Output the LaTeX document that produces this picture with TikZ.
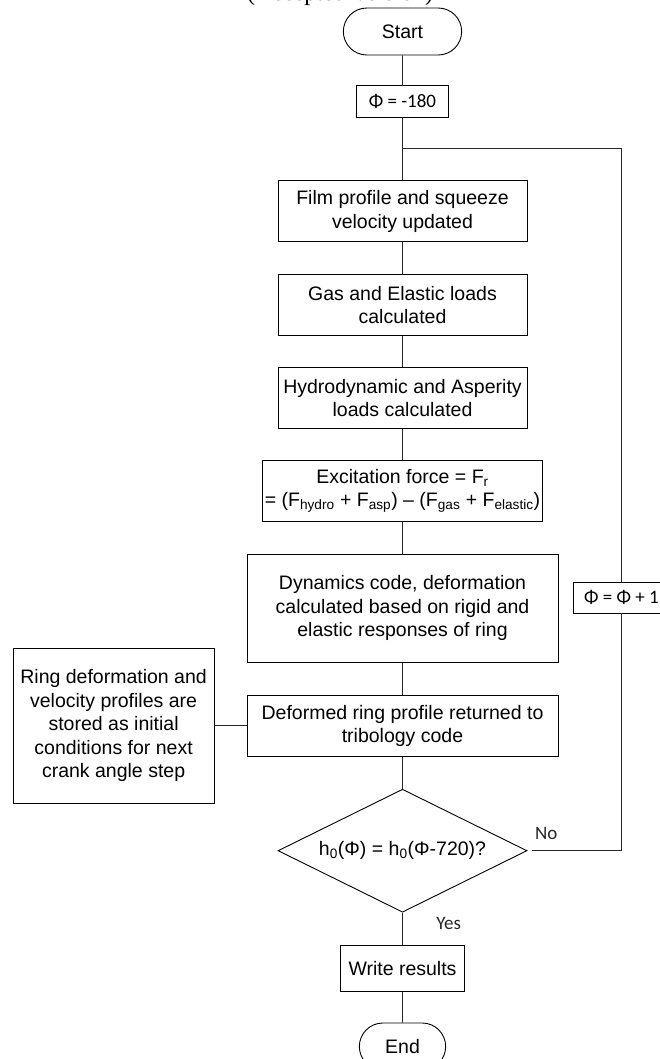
\documentclass[tikz,border=0pt]{standalone}
\usepackage{fontspec}
\setmainfont{Liberation Sans}
\newfontfamily\calibri{Carlito}
\newfontfamily\timesfont{Liberation Serif}
\usetikzlibrary{positioning,shapes.geometric,shapes.misc}

\begin{document}
\begin{tikzpicture}[
    x=1pt, y=-1pt,
    font=\fontsize{19.5}{23.5}\selectfont,
    box/.style={draw, line width=0.9pt, minimum height=61pt, minimum width=249pt, align=center, inner sep=2pt},
    term/.style={draw, line width=0.9pt, rounded rectangle, minimum height=47pt, minimum width=125pt},
    cond/.style={draw, line width=0.9pt, diamond, aspect=2, minimum width=249pt, minimum height=123pt, inner sep=0pt},
    tag/.style={font=\calibri\fontsize{19}{23}\selectfont},
    link/.style={line width=0.9pt, black!85}
]
\useasboundingbox (0,0) rectangle (659,1059);
\node[font=\timesfont\fontsize{24}{28}\selectfont, anchor=base] (title) at (340,1) {(Accepted Version)};

\node[term] (start) at (402.5,31.5) {Start};
\node[box, tag, minimum width=92pt, minimum height=32pt, below=30pt of start] (phi0) {Φ = -180};
\node[box, below=62pt of phi0] (film) {Film profile and squeeze\\velocity updated};
\node[box, below=32pt of film] (gas) {Gas and Elastic loads\\calculated};
\node[box, below=31pt of gas] (hydro) {Hydrodynamic and Asperity\\loads calculated};
\node[box, minimum width=280pt, below=31pt of hydro] (force) {Excitation force = F\textsubscript{r}\\= (F\textsubscript{hydro} + F\textsubscript{asp}) – (F\textsubscript{gas} + F\textsubscript{elastic})};
\node[box, minimum width=311pt, minimum height=108pt, below=32pt of force] (dyn) {Dynamics code, deformation\\calculated based on rigid and\\elastic responses of ring};
\node[box, minimum width=311pt, below=32pt of dyn] (deform) {Deformed ring profile returned to\\tribology code};
\node[box, minimum width=201pt, minimum height=155pt, left=32pt of deform] (store) {Ring deformation and\\velocity profiles are\\stored as initial\\conditions for next\\crank angle step};
\node[cond, below=32pt of deform] (check) {h\textsubscript{0}(Φ) = h\textsubscript{0}(Φ-720)?};
\node[box, minimum width=124pt, minimum height=46pt, below=32pt of check] (write) {Write results};
\node[term, minimum width=93pt, below=31pt of write] (stop) {End};

% loop back
\coordinate (join) at (402.5,148);
\node[box, tag, minimum width=97pt, minimum height=31pt] (incr) at (621.5,597.5) {Φ = Φ + 1};

\draw[link] (start) -- (phi0);
\draw[link] (phi0) -- (film);
\draw[link] (film) -- (gas);
\draw[link] (gas) -- (hydro);
\draw[link] (hydro) -- (force);
\draw[link] (force) -- (dyn);
\draw[link] (dyn) -- (deform);
\draw[link] (deform) -- (store);
\draw[link] (deform) -- (check);
\draw[link] (check) -- node[tag, pos=0.5, right=30pt, yshift=5pt]{Yes} (write);
\draw[link] (write) -- (stop);
\draw[link, shorten <=5pt] (check.east) -- node[tag, pos=0.2, above, yshift=7pt]{No} (check.east -| incr) -- (incr);
\draw[link] (incr) |- (join);
\end{tikzpicture}
\end{document}
